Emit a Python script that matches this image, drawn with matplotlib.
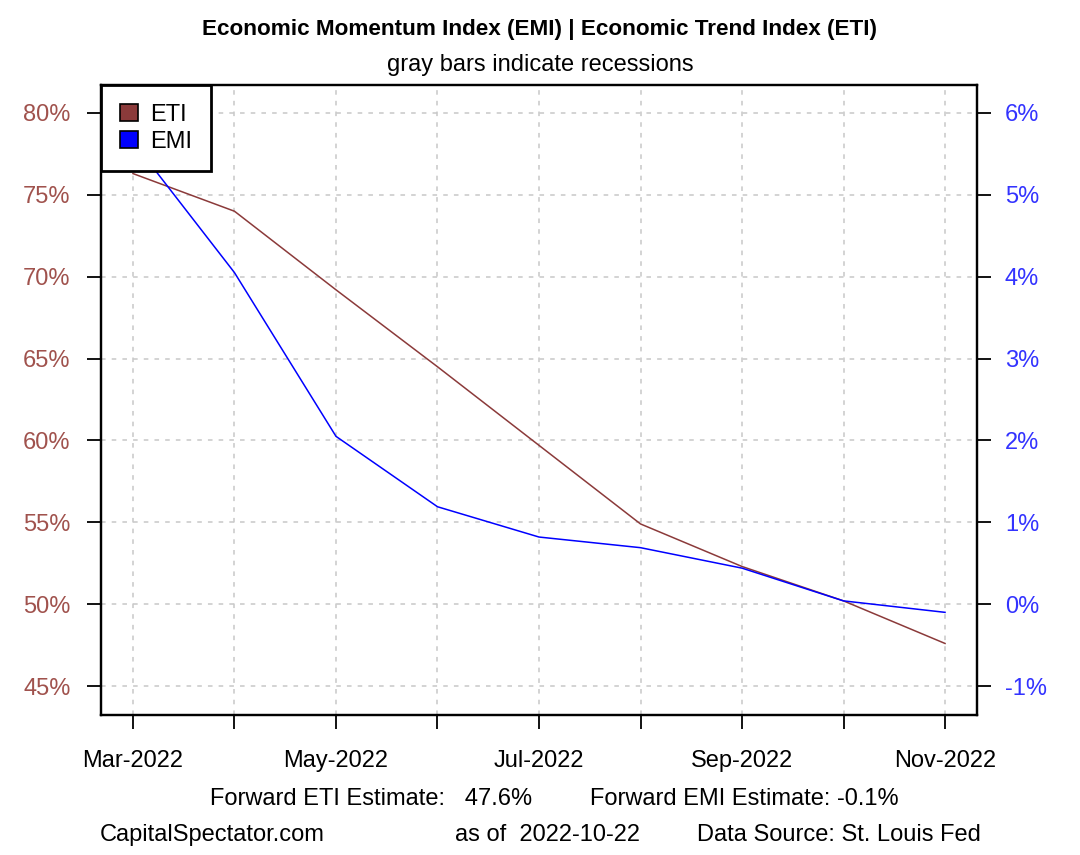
import matplotlib.pyplot as plt
from matplotlib.patches import Patch

plt.rcParams['font.family'] = ['Liberation Sans', 'DejaVu Sans']

months = ['Mar-2022', 'Apr-2022', 'May-2022', 'Jun-2022', 'Jul-2022',
          'Aug-2022', 'Sep-2022', 'Oct-2022', 'Nov-2022']
eti = [76.3, 74.0, 69.2, 64.5, 59.7, 54.9, 52.3, 50.2, 47.6]   # left axis, %
emi = [5.65, 4.05, 2.05, 1.19, 0.82, 0.69, 0.44, 0.04, -0.1]   # right axis, %
eti_ticks = [45, 50, 55, 60, 65, 70, 75, 80]
emi_ticks = [-1, 0, 1, 2, 3, 4, 5, 6]

eti_col = '#8B3A3A'
emi_col = '#0000FF'

W, H = 1080, 855
fig = plt.figure(figsize=(W / 100, H / 100), dpi=100)
ax = fig.add_axes([101 / W, 1 - 715 / H, (977 - 101) / W, (715 - 85) / H])
ax2 = ax.twinx()

x = list(range(len(months)))
ax.plot(x, eti, color=eti_col, lw=1.1, zorder=3)
ax2.plot(x, emi, color=emi_col, lw=1.1, zorder=3)

ax.set_xlim(-0.315, 8.315)
ax.set_ylim(43.23, 81.71)
ax2.set_ylim(-1.354, 6.342)

ax.set_xticks(x)
ax.set_xticklabels([m if i % 2 == 0 else '' for i, m in enumerate(months)], fontsize=17)
ax.set_yticks(eti_ticks)
ax.set_yticklabels([f'{t}%' for t in eti_ticks], fontsize=17, color='#A0524D')
ax2.set_yticks(emi_ticks)
ax2.set_yticklabels([f'{t}%' for t in emi_ticks], fontsize=17, color='#3333FF')

for a in (ax, ax2):
    a.tick_params(length=10, width=1.3, color='black')
    for s in a.spines.values():
        s.set_linewidth(1.6)
ax.tick_params(axis='x', pad=15)
ax.tick_params(axis='y', pad=12)
ax2.tick_params(axis='y', pad=10)

ax.grid(True, color='#c8c8c8', linestyle=(0, (3, 4)), lw=1.1, zorder=0)
ax.set_axisbelow(True)

handles = [Patch(facecolor=eti_col, edgecolor='black', lw=1.2),
           Patch(facecolor=emi_col, edgecolor='black', lw=1.2)]
leg = ax2.legend(handles, ['ETI', 'EMI'], loc='upper left', bbox_to_anchor=(0, 1),
                 borderaxespad=0, fancybox=False, fontsize=17, handlelength=0.76,
                 handleheight=0.76, handletextpad=0.5, borderpad=0.8,
                 labelspacing=0.2, edgecolor='black', framealpha=1)
leg.get_frame().set_linewidth(2)

fig.text(0.5, 1 - 30 / H, 'Economic Momentum Index (EMI) | Economic Trend Index (ETI)',
         ha='center', va='center', fontsize=16.2, fontweight='bold')
fig.text(0.5, 1 - 65 / H, 'gray bars indicate recessions', ha='center', va='center', fontsize=17)

fig.text(210 / W, 1 - 799 / H, 'Forward ETI Estimate:   47.6%', ha='left', va='center', fontsize=17)
fig.text(590 / W, 1 - 799 / H, 'Forward EMI Estimate: -0.1%', ha='left', va='center', fontsize=17)
fig.text(100 / W, 1 - 835 / H, 'CapitalSpectator.com', ha='left', va='center', fontsize=17)
fig.text(455 / W, 1 - 835 / H, 'as of  2022-10-22', ha='left', va='center', fontsize=17)
fig.text(697 / W, 1 - 835 / H, 'Data Source: St. Louis Fed', ha='left', va='center', fontsize=17)

fig.savefig('out.png', dpi=100)
